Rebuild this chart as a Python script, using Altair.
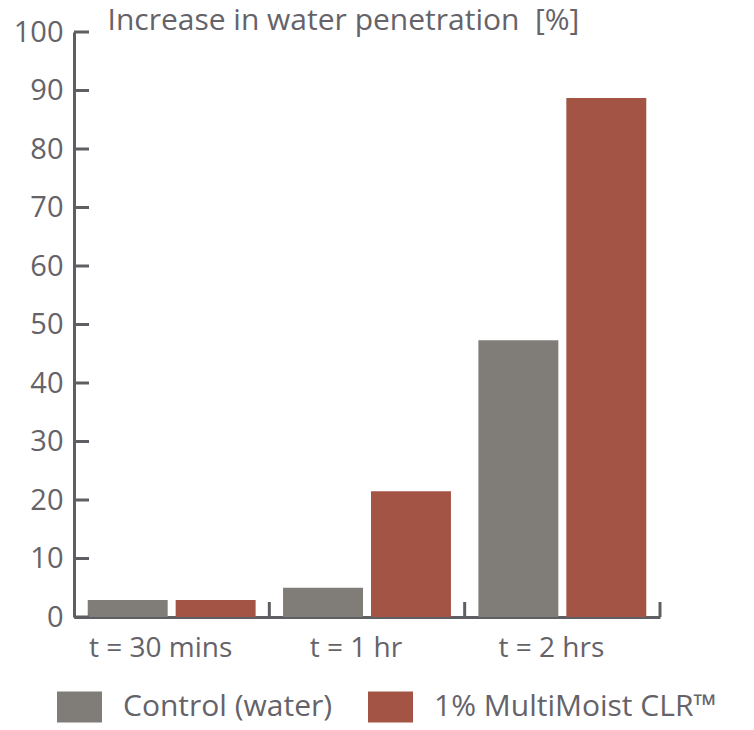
import altair as alt
import pandas as pd

groups = ["t = 30 mins", "t = 1 hr", "t = 2 hrs"]
series = ["Control (water)", "1% MultiMoist CLR™"]
control = [2.9, 5.0, 47.3]
multimoist = [2.9, 21.5, 88.7]
y_ticks = [0, 10, 20, 30, 40, 50, 60, 70, 80, 90, 100]
colors = ["#807d78", "#a35445"]

rows = []
for g, c, m in zip(groups, control, multimoist):
    rows.append({"group": g, "series": series[0], "value": c})
    rows.append({"group": g, "series": series[1], "value": m})
df = pd.DataFrame(rows)
tick_df = pd.DataFrame({"v": y_ticks})
grp_df = pd.DataFrame({"group": groups})

W, H = 586, 585
TXT = "#656369"
AX = "#5f5e63"
FONT = "Open Sans"

xscale = alt.Scale(domain=groups, paddingInner=0, paddingOuter=0)
yscale = alt.Scale(domain=[0, 100], nice=False)

bars = alt.Chart(df).mark_bar().encode(
    x=alt.X("group:N", scale=xscale, sort=groups,
            axis=alt.Axis(title=None, labelAngle=0, ticks=False, tickSize=0,
                          labelPadding=39, labelBaseline="alphabetic",
                          labelOffset=-11,
                          labelFontSize=28, labelColor=TXT, labelFont=FONT,
                          domainColor=AX, domainWidth=3, grid=False)),
    xOffset=alt.XOffset("series:N", sort=series,
                        scale=alt.Scale(paddingInner=0.0909, paddingOuter=0.156)),
    y=alt.Y("value:Q", scale=yscale,
            axis=alt.Axis(values=y_ticks, ticks=False, tickSize=0, labelPadding=11,
                          labelFontSize=29, labelColor=TXT, labelFont=FONT,
                          domainColor=AX, domainWidth=3, grid=False,
                          title="Increase in water penetration\u00a0 [%]",
                          titleAngle=0, titleAlign="left", titleBaseline="alphabetic",
                          titleX=33, titleY=-3, titleFontSize=30,
                          titleFontWeight="normal", titleColor=TXT, titleFont=FONT)),
    color=alt.Color("series:N", sort=series,
                    scale=alt.Scale(domain=series, range=colors),
                    legend=alt.Legend(title=None, orient="none", direction="horizontal",
                                      legendX=-17, legendY=652,
                                      symbolType="M-1,-0.69L1,-0.69L1,0.69L-1,0.69Z",
                                      symbolSize=2025, symbolStrokeWidth=0,
                                      symbolOpacity=1,
                                      labelFontSize=30, labelColor=TXT, labelFont=FONT,
                                      labelOffset=21, columnPadding=35,
                                      labelLimit=400)),
)

yt = alt.Chart(tick_df).mark_rule(color=AX, strokeWidth=3).encode(
    y=alt.Y("v:Q", scale=yscale),
    x=alt.value(0),
    x2=alt.value(15),
)

xt = alt.Chart(grp_df).mark_rule(color=AX, strokeWidth=3).encode(
    x=alt.X("group:N", scale=xscale, sort=groups, bandPosition=1),
    y=alt.value(H - 15),
    y2=alt.value(H),
)

chart = alt.layer(bars, yt, xt).properties(
    width=W, height=H,
    autosize=alt.AutoSizeParams(type="none"),
    padding={"left": 66, "top": 24, "right": 80, "bottom": 110},
).configure_view(stroke=None)

chart.save("out.html", embed_options={"renderer": "svg", "actions": False})
